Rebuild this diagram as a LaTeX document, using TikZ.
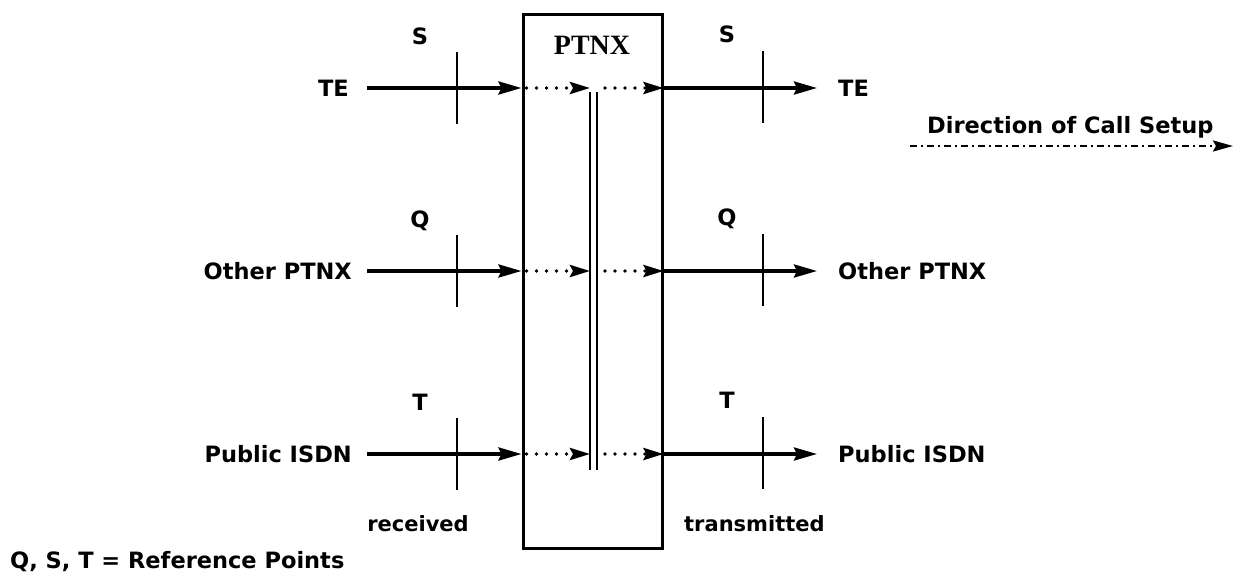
\documentclass[tikz,border=0pt]{standalone}
\usepackage{fontspec}
\setmainfont{DejaVu Sans}
\newfontfamily\ptnxfont{Liberation Serif}
\usetikzlibrary{arrows.meta}
\tikzset{
  lbl/.style={font=\fontsize{22.5}{27}\selectfont\bfseries, text height=16.4pt, text depth=0pt, inner ysep=0pt},
  txt/.style={font=\fontsize{22.5}{27}\selectfont\bfseries, inner sep=0pt},
  smalltxt/.style={font=\fontsize{21}{25}\selectfont\bfseries, inner sep=0pt},
  arr/.style={line width=3.4pt, -{Stealth[length=23pt,width=13pt,inset=3pt]}},
  dotarr/.style={line width=3.6pt, line cap=round, dash pattern=on 0pt off 10pt, dash phase=5pt, -{Stealth[length=20pt,width=12pt,inset=3pt]}},
  refline/.style={line width=2.4pt},
  barline/.style={line width=2.4pt},
  dirarr/.style={line width=2.4pt, dash pattern=on 7pt off 4pt on 2pt off 4pt, -{Stealth[length=20pt,width=11pt,inset=3pt]}}
}
\begin{document}
\begin{tikzpicture}[x=1pt,y=-1pt]
\useasboundingbox (0,0) rectangle (1235,574);
\fill[white] (0,0) rectangle (1235,574);

% PTNX box
\node[draw, line width=3pt, minimum width=139pt, minimum height=534pt, inner sep=0pt] (ptnx) at (592.5,281) {};
\node[font=\fontsize{28}{30}\selectfont\ptnxfont\bfseries, inner sep=0pt] (ptnxlbl) at (592,45) {PTNX};

% double bar
\coordinate (b1t) at (590,92);
\coordinate (b1b) at (590,470);
\coordinate (b2t) at (597,92);
\coordinate (b2b) at (597,470);
\draw[barline] (b1t) -- (b1b);
\draw[barline] (b2t) -- (b2b);

% left labels
\node[lbl, anchor=east, inner xsep=18pt] (lte) at (367,88) {TE};
\node[lbl, anchor=east, inner xsep=15pt] (lq) at (367,271) {Other PTNX};
\node[lbl, anchor=east, inner xsep=15pt] (lt) at (367,454) {Public ISDN};

% right labels
\node[lbl, anchor=west, inner xsep=21pt] (rte) at (817,88) {TE};
\node[lbl, anchor=west, inner xsep=21pt] (rq) at (817,271) {Other PTNX};
\node[lbl, anchor=west, inner xsep=21pt] (rt) at (817,454) {Public ISDN};

% incoming arrows
\draw[arr] (lte.east) -- (ptnx.west |- lte.east);
\draw[arr] (lq.east) -- (ptnx.west |- lq.east);
\draw[arr] (lt.east) -- (ptnx.west |- lt.east);

% dotted inside box (received side)
\draw[dotarr] (ptnx.west |- lte.east) -- (b1t |- lte.east);
\draw[dotarr] (ptnx.west |- lq.east) -- (b1t |- lq.east);
\draw[dotarr] (ptnx.west |- lt.east) -- (b1t |- lt.east);

% dotted inside box (transmitted side)
\draw[dotarr] ([xshift=3pt]b2t |- rte.west) -- (ptnx.east |- rte.west);
\draw[dotarr] ([xshift=3pt]b2t |- rq.west) -- (ptnx.east |- rq.west);
\draw[dotarr] ([xshift=3pt]b2t |- rt.west) -- (ptnx.east |- rt.west);

% outgoing arrows
\draw[arr] (ptnx.east |- rte.west) -- (rte.west);
\draw[arr] (ptnx.east |- rq.west) -- (rq.west);
\draw[arr] (ptnx.east |- rt.west) -- (rt.west);

% reference point ticks
\foreach \yy in {88,271,454} {
  \draw[refline] (457,\yy-36) -- (457,\yy+36);
  \draw[refline] (763,\yy-37) -- (763,\yy+35);
}

% reference point labels
\node[lbl] (ls) at (420,36) {S};
\node[lbl] (lqq) at (420,219) {Q};
\node[lbl] (ltt) at (420,402) {T};
\node[lbl] (rs) at (727,34) {S};
\node[lbl] (rqq) at (727,217) {Q};
\node[lbl] (rtt) at (727,400) {T};

% bottom texts
\node[smalltxt, anchor=base] (recv) at (418,531) {received};
\node[smalltxt, anchor=base west] (trans) at (684,531) {transmitted};
\node[txt, anchor=base west] (legend) at (10,568) {Q, S, T = Reference Points};

% direction of call setup
\node[txt, anchor=base west] (dir) at (927,133) {Direction of Call Setup};
\coordinate (dirs) at (910,146);
\coordinate (dire) at (1233,146);
\draw[dirarr] (dirs) -- (dire);
\end{tikzpicture}
\end{document}
